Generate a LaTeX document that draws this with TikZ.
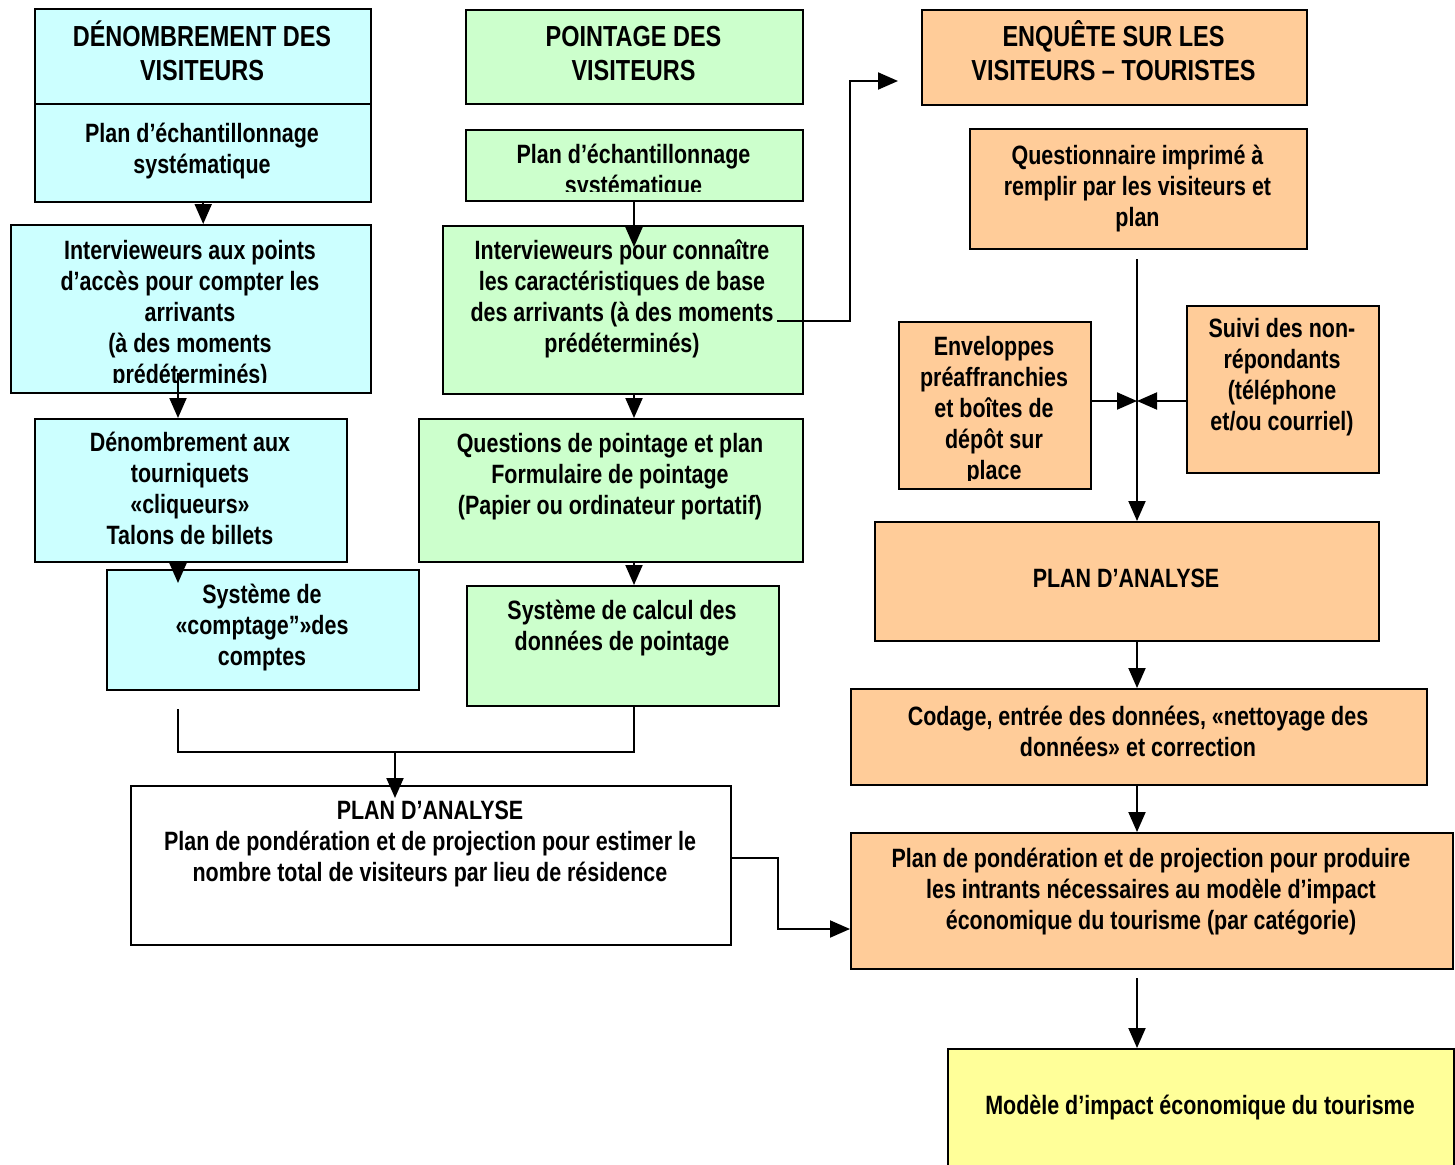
\documentclass[tikz,border=0pt]{standalone}
\usepackage{fontspec}
\setmainfont{Liberation Sans}[FakeStretch=0.81]
\usetikzlibrary{arrows.meta}

\definecolor{denomcyan}{HTML}{CCFFFF}
\definecolor{pointgreen}{HTML}{CCFFCC}
\definecolor{enqorange}{HTML}{FFCC99}
\definecolor{modyellow}{HTML}{FFFF99}

\begin{document}
\begin{tikzpicture}[
    x=1pt, y=-1pt,
    box/.style={draw, line width=2.4pt, rectangle, anchor=north west, inner sep=0pt},
    txt/.style={inner sep=0pt, align=center, anchor=base,
      font=\fontsize{26.5}{31}\selectfont\bfseries},
    headtxt/.style={txt, font=\fontsize{29}{33}\selectfont\bfseries},
    flow/.style={draw, line width=2pt, -{Triangle[length=20pt,width=17pt]}},
    link/.style={draw, line width=2pt}
  ]
\clip (0,0) rectangle (1455,1164);

% column axes of the arrows
\coordinate (cx1) at (178,0);
\coordinate (cx2) at (634,0);
\coordinate (cx3) at (1137,0);

% Denombrement des visiteurs (cyan)
% (text nodes sit on the baseline of their last line)
\node[box, fill=denomcyan, minimum width=336pt, minimum height=193pt] (dvhead) at (34,8) {};
\draw[line width=2.4pt] (34,104) -- (370,104);
\node[headtxt] (dvheadtxt) at (202,80) {DÉNOMBREMENT DES\\VISITEURS};
\node[txt] (dvsamptxt) at (202,173) {Plan d’échantillonnage\\systématique};
\node[box, fill=denomcyan, minimum width=360pt, minimum height=168pt] (dvint) at (10,224) {};
\begin{scope}
  \clip (10,224) rectangle (370,382);
  \node[txt] (dvinttxt) at (190,383) {Intervieweurs aux points\\d’accès pour compter les\\arrivants\\(à des moments\\prédéterminés)};
\end{scope}
\node[box, fill=denomcyan, minimum width=312pt, minimum height=143pt] (dvturn) at (34,418) {};
\node[txt] (dvturntxt) at (190,544) {Dénombrement aux\\tourniquets\\«cliqueurs»\\Talons de billets};
\node[box, fill=denomcyan, minimum width=312pt, minimum height=120pt] (dvsys) at (106,569) {};
\node[txt] (dvsystxt) at (262,665) {Système de\\«comptage”»des\\comptes};

% Pointage des visiteurs (green)
\node[box, fill=pointgreen, minimum width=337pt, minimum height=94pt] (pthead) at (465,9) {};
\node[headtxt] (ptheadtxt) at (633.5,80) {POINTAGE DES\\VISITEURS};
\node[box, fill=pointgreen, minimum width=337pt, minimum height=71pt] (ptsamp) at (465,129) {};
\begin{scope}
  \clip (465,129) rectangle (802,191);
  \node[txt] (ptsamptxt) at (633.5,194) {Plan d’échantillonnage\\systématique};
\end{scope}
\node[box, fill=pointgreen, minimum width=360pt, minimum height=168pt] (ptint) at (442,225) {};
\node[txt] (ptinttxt) at (622,352) {Intervieweurs pour connaître\\les caractéristiques de base\\des arrivants (à des moments\\prédéterminés)};
\node[box, fill=pointgreen, minimum width=384pt, minimum height=143pt] (ptques) at (418,418) {};
\node[txt] (ptquestxt) at (610,514) {Questions de pointage et plan\\Formulaire de pointage\\(Papier ou ordinateur portatif)};
\node[box, fill=pointgreen, minimum width=312pt, minimum height=120pt] (ptcalc) at (466,585) {};
\node[txt] (ptcalctxt) at (622,650) {Système de calcul des\\données de pointage};

% Plan d'analyse (white)
\node[box, fill=white, minimum width=600pt, minimum height=159pt] (anplan) at (130,785) {};
\node[txt] (anplantxt) at (430,881) {PLAN D’ANALYSE\\Plan de pondération et de projection pour estimer le\\nombre total de visiteurs par lieu de résidence};

% Enquete sur les visiteurs (orange)
\node[box, fill=enqorange, minimum width=385pt, minimum height=95pt] (enqhead) at (921,9) {};
\node[headtxt] (enqheadtxt) at (1113.5,80) {ENQUÊTE SUR LES\\VISITEURS – TOURISTES};
\node[box, fill=enqorange, minimum width=337pt, minimum height=120pt] (enqquest) at (969,128) {};
\node[txt] (enqquesttxt) at (1137.5,226) {Questionnaire imprimé à\\remplir par les visiteurs et\\plan};
\node[box, fill=enqorange, minimum width=192pt, minimum height=167pt] (enqenv) at (898,321) {};
\begin{scope}
  \clip (898,321) rectangle (1090,480);
  \node[txt] (enqenvtxt) at (994,479) {Enveloppes\\préaffranchies\\et boîtes de\\dépôt sur\\place};
\end{scope}
\node[box, fill=enqorange, minimum width=192pt, minimum height=167pt] (enqsuivi) at (1186,305) {};
\node[txt] (enqsuivitxt) at (1282,430) {Suivi des non-\\répondants\\(téléphone\\et/ou courriel)};
\node[box, fill=enqorange, minimum width=504pt, minimum height=119pt] (enqplan) at (874,521) {};
\node[txt] (enqplantxt) at (1126,587) {PLAN D’ANALYSE};
\node[box, fill=enqorange, minimum width=576pt, minimum height=96pt] (enqcode) at (850,688) {};
\node[txt] (enqcodetxt) at (1138,756) {Codage, entrée des données, «nettoyage des\\données» et correction};
\node[box, fill=enqorange, minimum width=602pt, minimum height=136pt] (enqpond) at (850,832) {};
\node[txt] (enqpondtxt) at (1151,929) {Plan de pondération et de projection pour produire\\les intrants nécessaires au modèle d’impact\\économique du tourisme (par catégorie)};

% Modele d'impact (yellow)
\node[box, fill=modyellow, minimum width=506pt, minimum height=130pt] (impmod) at (947,1048) {};
\node[txt] (impmodtxt) at (1200,1114) {Modèle d’impact économique du tourisme};

% arrows, left column
\coordinate (dvdrop) at (178,373);
\draw[flow] (dvhead.south) -- (dvhead.south |- dvint.north);
\draw[flow] (dvdrop) -- (dvdrop |- dvturn.north);
\draw[flow] (cx1 |- dvturn.south) -- ([yshift=-14pt]cx1 |- dvsys.north);

% arrows, middle column
\draw[flow] (cx2 |- ptsamp.south) -- ([yshift=-22pt]cx2 |- ptint.north);
\draw[flow] (cx2 |- ptint.south) -- (cx2 |- ptques.north);
\draw[flow] (cx2 |- ptques.south) -- (cx2 |- ptcalc.north);

% both counts join into the analysis plan
\coordinate (anjoin) at (395,752);
\draw[link] ([yshift=-18pt]cx1 |- dvsys.south) |- (anjoin) -| (cx2 |- ptcalc.south);
\draw[flow] (anjoin) -- ([yshift=-13pt]anjoin |- anplan.north);

% from the interviews to the survey
\coordinate (ptout) at (777,321);
\coordinate (enqin) at (898,81);
\draw[flow] (ptout) -| ([xshift=-48pt]enqin) -- (enqin);

% arrows, right column
\coordinate (enqjoin) at (1137,401);
\draw[flow] ([yshift=-9pt]cx3 |- enqquest.south) -- (cx3 |- enqplan.north);
\draw[flow] (enqenv.east |- enqjoin) -- (enqjoin);
\draw[flow] (enqsuivi.west |- enqjoin) -- (enqjoin);
\draw[flow] (cx3 |- enqplan.south) -- (cx3 |- enqcode.north);
\draw[flow] (cx3 |- enqcode.south) -- (cx3 |- enqpond.north);
\draw[flow] ([yshift=-8pt]cx3 |- enqpond.south) -- (cx3 |- impmod.north);

% analysis plan into the weighting plan
\coordinate (pondin) at (850,929);
\draw[flow] ([yshift=8pt]anplan.east) -| ([xshift=-72pt]pondin) -- (pondin);

\end{tikzpicture}
\end{document}
